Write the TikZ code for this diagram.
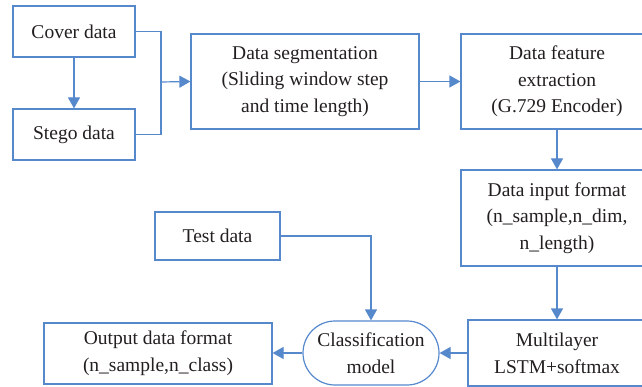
\documentclass[tikz,border=0pt]{standalone}
\usepackage{fontspec}
\setmainfont{Liberation Serif}
\usetikzlibrary{arrows.meta,shapes.misc}
\definecolor{flowblue}{RGB}{86,136,204}
\definecolor{inkgray}{RGB}{35,31,32}
\begin{document}
\begin{tikzpicture}[x=1pt,y=-1pt,
  every node/.style={text=inkgray,font=\fontsize{19.5}{26.7}\selectfont,align=center,inner sep=0pt},
  box/.style={draw=flowblue,line width=1.2pt,rectangle},
  pill/.style={draw=flowblue,line width=1.2pt,rounded rectangle},
  link/.style={draw=flowblue,line width=1.2pt},
  flow/.style={link,-{Triangle[length=11pt,width=12pt]}}]
\useasboundingbox (0,0) rectangle (642,387);
\clip (0,0) rectangle (642,387);

% input data
\node[box,minimum width=122pt,minimum height=51pt] (cover) at (74,31.5) {Cover data};
\node[box,minimum width=122pt,minimum height=51pt] (stego) at (74,134.5) {Stego data};

% processing chain
\node[box,minimum width=228pt,minimum height=95pt] (seg) at (305,81.5)
  {Data segmentation\\(Sliding window step\\and time length)};
\node[box,minimum width=192pt,minimum height=95pt] (feat) at (557,81.5)
  {Data feature\\extraction\\(G.729 Encoder)};
\node[box,minimum width=192pt,minimum height=96pt] (inp) at (557,218)
  {Data input format\\(n\_sample,n\_dim,\\n\_length)};
\node[box,minimum width=178pt,minimum height=66pt] (lstm) at (557,353)
  {Multilayer\\LSTM+softmax};

% classification
\node[pill,minimum width=136pt,minimum height=64pt] (cls) at (371,353)
  {Classification\\model};
\node[box,minimum width=125pt,minimum height=48pt] (test) at (217.5,236) {Test data};
\node[box,minimum width=228pt,minimum height=61pt] (out) at (158,353.5)
  {Output data format\\(n\_sample,n\_class)};

\coordinate (merge) at (161,82);

% connectors
\draw[flow] (cover) -- (stego);
\draw[link] (cover.east) -| (merge);
\draw[link] (stego.east) -| (merge);
\draw[flow] (merge) -- (seg.west);
\draw[flow] (seg.east) -- (feat.west |- seg.east);
\draw[flow] (feat) -- (inp);
\draw[flow] (inp) -- (lstm);
\draw[flow] (lstm.west) -- (cls.east);
\draw[flow] (cls.west) -- (out.east |- cls.west);
\draw[flow] (test.east) -| (cls.north);
\end{tikzpicture}
\end{document}
